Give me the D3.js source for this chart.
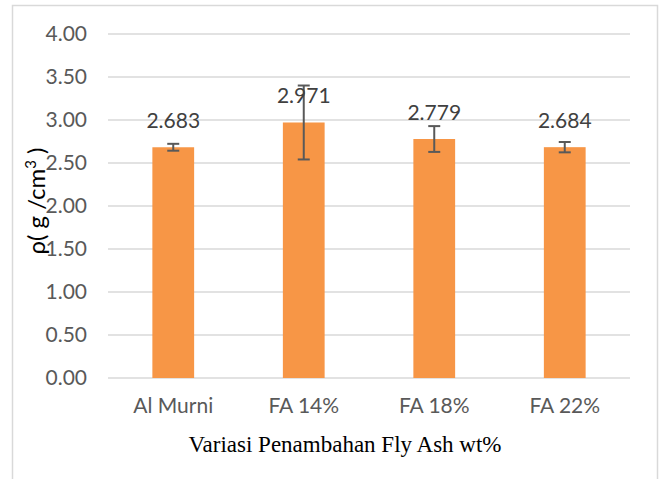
<!DOCTYPE html>
<html>
<head>
<meta charset="utf-8">
<script src="https://cdn.jsdelivr.net/npm/d3@7"></script>
<style>
  body { margin: 0; background: #fff; }
  svg { display: block; }
</style>
</head>
<body>
<div id="chart"></div>
<script>
// data
const categories = ["Al Murni", "FA 14%", "FA 18%", "FA 22%"];
const density = [2.683, 2.971, 2.779, 2.684];
const errors = [0.04, 0.43, 0.15, 0.06];
const yTicks = [0, 0.5, 1, 1.5, 2, 2.5, 3, 3.5, 4];

const W = 662, H = 479;
const margin = { top: 34, right: 32, bottom: 101, left: 108 };
const width = W - margin.left - margin.right;
const height = H - margin.top - margin.bottom;

const svg = d3.select("#chart")
    .append("svg")
    .attr("width", W)
    .attr("height", H);

// chart frame
svg.append("rect")
    .attr("x", 12.5)
    .attr("y", 5.5)
    .attr("width", 645)
    .attr("height", 500)
    .attr("fill", "none")
    .attr("stroke", "#d9d9d9")
    .attr("stroke-width", 1.5);

const g = svg.append("g")
    .attr("transform", `translate(${margin.left},${margin.top})`);

const x = d3.scaleBand()
    .domain(categories)
    .range([0, width])
    .paddingInner(0.68)
    .paddingOuter(0.34);

const y = d3.scaleLinear()
    .domain([0, 4])
    .range([height, 0]);

// gridlines
g.append("g")
    .selectAll("line")
    .data(yTicks)
    .enter().append("line")
    .attr("x1", 0)
    .attr("x2", width)
    .attr("y1", d => y(d))
    .attr("y2", d => y(d))
    .attr("stroke", "#d9d9d9")
    .attr("stroke-width", 1.5);

// y axis labels
const yAxis = g.append("g")
    .call(d3.axisLeft(y).tickValues(yTicks).tickFormat(d3.format(".2f")).tickSize(0).tickPadding(21));
yAxis.select(".domain").remove();
yAxis.selectAll("text")
    .attr("fill", "#595959")
    .style("font-family", "Lato, sans-serif")
    .style("font-size", "21px");

// x axis labels
const xAxis = g.append("g")
    .attr("transform", `translate(0,${height})`)
    .call(d3.axisBottom(x).tickSize(0).tickPadding(20));
xAxis.select(".domain").remove();
xAxis.selectAll("text")
    .attr("fill", "#595959")
    .style("font-family", "Lato, sans-serif")
    .style("font-size", "21px");

// bars
g.selectAll(".bar")
    .data(density)
    .enter().append("rect")
    .attr("class", "bar")
    .attr("x", (d, i) => x(categories[i]))
    .attr("y", d => y(d))
    .attr("width", x.bandwidth())
    .attr("height", d => height - y(d))
    .attr("fill", "#f79646");

// error bars
const err = g.selectAll(".err")
    .data(density)
    .enter().append("g")
    .attr("class", "err")
    .attr("stroke", "#595959")
    .attr("stroke-width", 2);

err.append("line")
    .attr("x1", (d, i) => x(categories[i]) + x.bandwidth() / 2)
    .attr("x2", (d, i) => x(categories[i]) + x.bandwidth() / 2)
    .attr("y1", (d, i) => y(d + errors[i]))
    .attr("y2", (d, i) => y(d - errors[i]));

err.append("line")
    .attr("x1", (d, i) => x(categories[i]) + x.bandwidth() / 2 - 6)
    .attr("x2", (d, i) => x(categories[i]) + x.bandwidth() / 2 + 6)
    .attr("y1", (d, i) => y(d + errors[i]))
    .attr("y2", (d, i) => y(d + errors[i]));

err.append("line")
    .attr("x1", (d, i) => x(categories[i]) + x.bandwidth() / 2 - 6)
    .attr("x2", (d, i) => x(categories[i]) + x.bandwidth() / 2 + 6)
    .attr("y1", (d, i) => y(d - errors[i]))
    .attr("y2", (d, i) => y(d - errors[i]));

// value labels
g.selectAll(".label")
    .data(density)
    .enter().append("text")
    .attr("class", "label")
    .attr("x", (d, i) => x(categories[i]) + x.bandwidth() / 2)
    .attr("y", d => y(d) - 19)
    .attr("text-anchor", "middle")
    .attr("fill", "#404040")
    .style("font-family", "Lato, sans-serif")
    .style("font-size", "21px")
    .text(d => d3.format(".3f")(d));

// axis titles
svg.append("text")
    .attr("x", margin.left + width / 2 - 24)
    .attr("y", 452)
    .attr("text-anchor", "middle")
    .attr("fill", "#000")
    .style("font-family", "'Liberation Serif', serif")
    .style("font-size", "23px")
    .text("Variasi Penambahan Fly Ash wt%");

const yTitle = svg.append("text")
    .attr("transform", "translate(45,201) rotate(-90)")
    .attr("text-anchor", "middle")
    .attr("fill", "#000")
    .style("font-family", "Lato, sans-serif")
    .style("font-size", "24px");
yTitle.append("tspan").text("ρ( g /cm");
yTitle.append("tspan").attr("dy", -9).style("font-size", "15px").text("3");
yTitle.append("tspan").attr("dy", 9).text(" )");
</script>
</body>
</html>
